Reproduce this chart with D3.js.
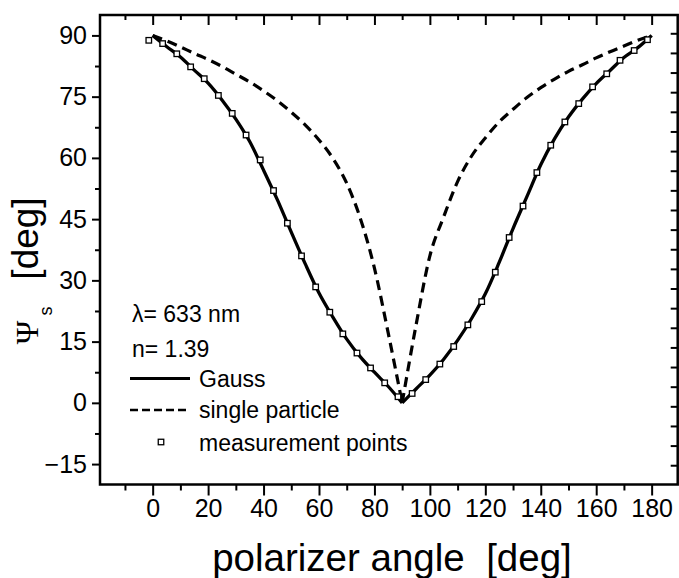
<!DOCTYPE html>
<html>
<head>
<meta charset="utf-8">
<script src="https://cdn.jsdelivr.net/npm/d3@7"></script>
<style>
    body { margin: 0; background: #fff; }
    svg { display: block; }
    text { font-family: "Liberation Sans", Arial, sans-serif; fill: #000; }
</style>
</head>
<body>
<script>
// 角度 (deg)
const angles = [0, 5, 10, 15, 20, 25, 30, 35, 40, 45, 50, 55, 60, 65, 70, 75, 80, 85, 90,
    95, 100, 105, 110, 115, 120, 125, 130, 135, 140, 145, 150, 155, 160, 165, 170, 175, 180];

// Gauss 曲线
const gaussPsi = [90, 87.3, 84.7, 81.5, 78.3, 74.2, 69.5, 64.0, 57.0, 49.7, 41.8, 34.1, 26.9, 21.0, 15.6, 11.2, 7.5, 4.0, 0,
    3.4, 6.8, 10.7, 15.3, 20.6, 26.7, 34.4, 42.7, 50.5, 58.3, 64.7, 70.0, 74.4, 78.2, 81.4, 84.6, 87.0, 90];

// single particle 曲线
const singlePsi = [90, 88.7, 87.2, 85.6, 84.1, 82.4, 80.5, 78.6, 76.4, 74.0, 71.2, 68.1, 64.4, 59.9, 53.8, 45.0, 33.0, 17.0, 0,
    19.0, 36.0, 45.6, 54.2, 60.4, 64.9, 68.8, 71.9, 74.8, 77.2, 79.3, 81.2, 82.8, 84.5, 86.0, 87.4, 88.8, 90];

// 测量点
const measAngle = [-1.4, 3.6, 8.7, 13.7, 18.6, 23.7, 28.7, 33.7, 38.8, 43.6, 48.6, 53.7, 58.8, 63.9, 68.6, 73.7, 78.6, 83.7, 88.5,
    93.6, 98.5, 103.6, 108.6, 113.7, 118.7, 123.6, 128.6, 133.6, 138.6, 143.6, 148.7, 153.7, 158.7, 163.8, 168.6, 173.7, 178.5];
const measPsi = [88.8, 88.0, 85.5, 82.3, 79.4, 75.3, 70.9, 65.6, 59.5, 52.0, 44.0, 36.0, 28.4, 22.2, 16.9, 12.2, 8.55, 4.9, 1.5,
    2.3, 5.7, 9.5, 13.8, 19.1, 24.8, 32.0, 40.5, 48.2, 56.4, 63.1, 68.8, 73.3, 77.4, 80.6, 83.9, 86.3, 88.95];

// 刻度
const xMajor = [0, 20, 40, 60, 80, 100, 120, 140, 160, 180];
const xMinor = [-10, 10, 30, 50, 70, 90, 110, 130, 150, 170];
const yMajor = [-15, 0, 15, 30, 45, 60, 75, 90];
const yMinor = [-7.5, 7.5, 22.5, 37.5, 52.5, 67.5, 82.5];
// 右轴刻度 (间距与左轴不同)
const yRight = d3.range(23).map(i => 90.52 - i * 4.809);

// 图例
const legendText = ['λ= 633 nm', 'n= 1.39'];
const legendSeries = ['Gauss', 'single particle', 'measurement points'];

const width = 679;
const height = 578;

const svg = d3.select('body')
    .append('svg')
    .attr('width', width)
    .attr('height', height);

// 比例尺
const xScale = d3.scaleLinear()
    .domain([-19, 189.4])
    .range([100, 677.7]);

const yScale = d3.scaleLinear()
    .domain([-20, 95])
    .range([484.5, 15]);

const [x0, x1] = xScale.range();
const [y0, y1] = yScale.range();

// 曲线: 在 90 度处分成两段, 保留尖角
const line = d3.line()
    .x(d => xScale(d[0]))
    .y(d => yScale(d[1]))
    .curve(d3.curveMonotoneX);

function branches(vals) {
    const pts = angles.map((a, i) => [a, vals[i]]);
    return [pts.filter(d => d[0] <= 90), pts.filter(d => d[0] >= 90)];
}

svg.append('g')
    .selectAll('path')
    .data(branches(singlePsi))
    .enter()
    .append('path')
    .attr('d', d => line(d))
    .attr('fill', 'none')
    .attr('stroke', '#000')
    .attr('stroke-width', 3.2)
    .attr('stroke-dasharray', '10,6');

svg.append('g')
    .selectAll('path')
    .data(branches(gaussPsi))
    .enter()
    .append('path')
    .attr('d', d => line(d))
    .attr('fill', 'none')
    .attr('stroke', '#000')
    .attr('stroke-width', 3.3);

// 测量点
const ms = 5.5;
svg.append('g')
    .selectAll('rect')
    .data(measAngle.map((a, i) => [a, measPsi[i]]))
    .enter()
    .append('rect')
    .attr('x', d => xScale(d[0]) - ms / 2)
    .attr('y', d => yScale(d[1]) - ms / 2)
    .attr('width', ms)
    .attr('height', ms)
    .attr('fill', '#fff')
    .attr('stroke', '#000')
    .attr('stroke-width', 1.3);

// 坐标轴
function styleAxis(g) {
    g.select('.domain').remove();
    g.selectAll('line').attr('stroke', '#000').attr('stroke-width', 2);
    g.selectAll('text').attr('font-size', 25).attr('font-family', '"Liberation Sans", Arial, sans-serif');
}

svg.append('g')
    .attr('transform', 'translate(0,' + y0 + ')')
    .call(d3.axisBottom(xScale).tickValues(xMajor).tickSize(11).tickPadding(3.5).tickFormat(d3.format('d')))
    .call(styleAxis);

svg.append('g')
    .attr('transform', 'translate(0,' + y0 + ')')
    .call(d3.axisBottom(xScale).tickValues(xMinor).tickSize(6).tickFormat(''))
    .call(styleAxis);

svg.append('g')
    .attr('transform', 'translate(0,' + y1 + ')')
    .call(d3.axisTop(xScale).tickValues(xMajor).tickSize(-10).tickFormat(''))
    .call(styleAxis);

svg.append('g')
    .attr('transform', 'translate(0,' + y1 + ')')
    .call(d3.axisTop(xScale).tickValues(xMinor).tickSize(-5).tickFormat(''))
    .call(styleAxis);

svg.append('g')
    .attr('transform', 'translate(' + x0 + ',0)')
    .call(d3.axisLeft(yScale).tickValues(yMajor).tickSize(8).tickPadding(5).tickFormat(d3.format('d')))
    .call(styleAxis);

svg.append('g')
    .attr('transform', 'translate(' + x0 + ',0)')
    .call(d3.axisLeft(yScale).tickValues(yMinor).tickSize(5).tickFormat(''))
    .call(styleAxis);

svg.append('g')
    .attr('transform', 'translate(' + x1 + ',0)')
    .call(d3.axisRight(yScale).tickValues(yRight).tickSize(-7).tickFormat(''))
    .call(styleAxis);

// 边框
svg.append('rect')
    .attr('x', x0)
    .attr('y', y1)
    .attr('width', x1 - x0)
    .attr('height', y0 - y1)
    .attr('fill', 'none')
    .attr('stroke', '#000')
    .attr('stroke-width', 2.5);

// 轴标题
svg.append('text')
    .attr('x', 392)
    .attr('y', 571)
    .attr('text-anchor', 'middle')
    .attr('font-size', 38.5)
    .style('white-space', 'pre')
    .text('polarizer angle  [deg]');

svg.append('text')
    .attr('transform', 'translate(38,332.5) rotate(-90)')
    .attr('text-anchor', 'middle')
    .attr('font-size', 32)
    .style('font-family', '"Liberation Serif", "Times New Roman", serif')
    .text('Ψ');

svg.append('text')
    .attr('transform', 'translate(52,311) rotate(-90)')
    .attr('text-anchor', 'middle')
    .attr('font-size', 18)
    .text('s');

svg.append('text')
    .attr('transform', 'translate(38,238.5) rotate(-90)')
    .attr('text-anchor', 'middle')
    .attr('font-size', 37)
    .text('[deg]');

// 图例
const legend = svg.append('g');

legend.selectAll('text.info')
    .data(legendText)
    .enter()
    .append('text')
    .attr('class', 'info')
    .attr('x', 132)
    .attr('y', (d, i) => [322, 356.5][i])
    .attr('font-size', 23)
    .text(d => d);

const rows = [387, 418, 451];
legend.selectAll('text.series')
    .data(legendSeries)
    .enter()
    .append('text')
    .attr('class', 'series')
    .attr('x', 199)
    .attr('y', (d, i) => rows[i])
    .attr('font-size', 23)
    .text(d => d);

legend.append('line')
    .attr('x1', 130).attr('x2', 190)
    .attr('y1', 378.5).attr('y2', 378.5)
    .attr('stroke', '#000')
    .attr('stroke-width', 3.2);

legend.append('line')
    .attr('x1', 130).attr('x2', 190)
    .attr('y1', 410).attr('y2', 410)
    .attr('stroke', '#000')
    .attr('stroke-width', 2.7)
    .attr('stroke-dasharray', '8,4');

legend.append('rect')
    .attr('x', 161 - ms / 2)
    .attr('y', 442 - ms / 2)
    .attr('width', ms)
    .attr('height', ms)
    .attr('fill', '#fff')
    .attr('stroke', '#000')
    .attr('stroke-width', 1.3);
</script>
</body>
</html>
